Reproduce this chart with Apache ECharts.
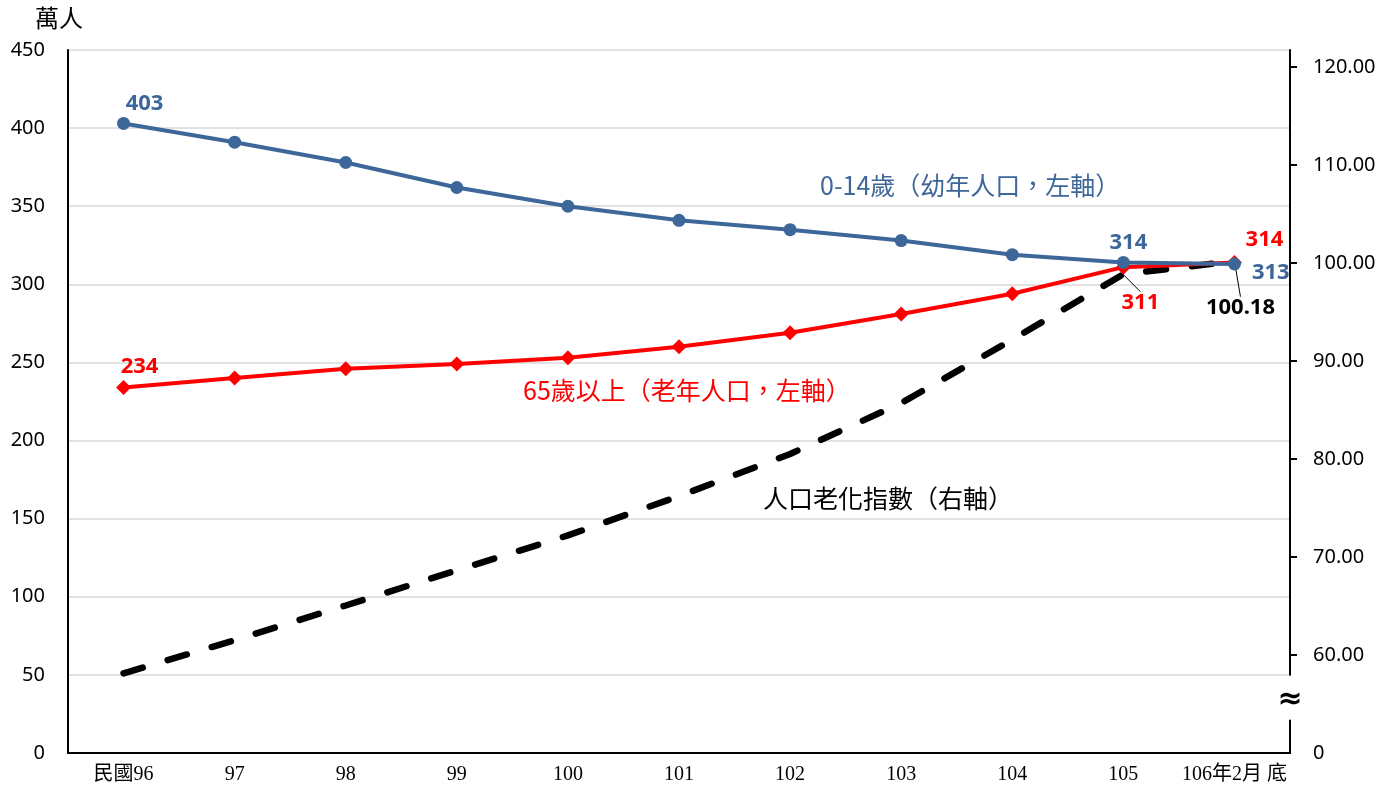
<!DOCTYPE html>
<html>
<head>
<meta charset="utf-8">
<style>
html,body{margin:0;padding:0;background:#fff;}
#chart{width:1384px;height:790px;}
</style>
<script src="https://cdn.jsdelivr.net/npm/echarts@6/dist/echarts.min.js"></script>
</head>
<body>
<div id="chart"></div>
<script>
// ---- data ----
const categories = ['民國96','97','98','99','100','101','102','103','104','105','106年2月 底'];
const youth   = [403, 391, 378, 362, 350, 341, 335, 328, 319, 314, 313];   // 0-14歲 (萬人)
const elderly = [234, 240, 246, 249, 253, 260, 269, 281, 294, 311, 314];   // 65歲以上 (萬人)
const agingIndex = [58.13, 61.51, 65.05, 68.64, 72.20, 76.21, 80.51, 85.70, 92.18, 98.86, 100.18]; // 人口老化指數
const leftTicks = [0, 50, 100, 150, 200, 250, 300, 350, 400, 450];
const rightTicks = [60, 70, 80, 90, 100, 110, 120];
const rightAxisFloor = 50;   // shown as "0" below the axis break

const BLUE = '#3D6699', RED = '#FF0000', BLACK = '#000000';
const GRID = {left: 68, right: 94, top: 50, bottom: 37};

const labelFont = {fontFamily: 'Noto Sans', fontWeight: 'bold', fontSize: 22};

function withLabels(values, labels) {
  return values.map((v, i) => {
    if (!labels[i]) return v;
    const item = {value: v, label: Object.assign({show: true}, labelFont, labels[i].label)};
    if (labels[i].labelLine) item.labelLine = labels[i].labelLine;
    return item;
  });
}
function layoutFrom(map) {
  return function (params) {
    const m = map[params.dataIndex];
    return m ? {dx: m[0], dy: m[1]} : {};
  };
}
const n = categories.length;

const chart = echarts.init(document.getElementById('chart'));
const option = {
  animation: false,
  backgroundColor: '#fff',
  grid: Object.assign({containLabel: false, outerBoundsMode: 'none'}, GRID),
  xAxis: {
    type: 'category',
    data: categories,
    boundaryGap: true,
    axisLine: {lineStyle: {color: '#000', width: 2}},
    axisTick: {show: false},
    axisLabel: {color: '#000', fontSize: 20, margin: 12, interval: 0,
      fontFamily: '"Liberation Serif", "Noto Sans CJK TC", serif'},
    splitLine: {show: false}
  },
  yAxis: [
    {
      type: 'value', min: 0, max: 450, interval: 50,
      axisLine: {show: true, lineStyle: {color: '#000', width: 2}},
      axisTick: {show: false},
      axisLabel: {color: '#000', fontSize: 20, margin: 23, fontFamily: 'Noto Sans'},
      splitLine: {show: true, lineStyle: {color: '#D9D9D9', width: 1.5}}
    },
    {
      type: 'value', min: rightAxisFloor, max: 121.73, position: 'right',
      axisLine: {show: true, lineStyle: {color: '#000', width: 2}},
      axisTick: {show: true, inside: false, length: 7, lineStyle: {color: '#000', width: 2},
        customValues: rightTicks},
      axisLabel: {color: '#000', fontSize: 20, margin: 23, fontFamily: 'Noto Sans',
        customValues: [rightAxisFloor].concat(rightTicks),
        formatter: v => (v === rightAxisFloor ? '0' : Number(v).toFixed(2))},
      splitLine: {show: false}
    }
  ],
  series: [
    {
      name: '人口老化指數', type: 'line', yAxisIndex: 1,
      data: withLabels(agingIndex, {
        [n - 1]: {label: {position: 'bottom', color: BLACK},
          labelLine: {show: true, lineStyle: {color: '#000', width: 1}}}
      }),
      labelLayout: layoutFrom({[n - 1]: [6, 30]}),
      showSymbol: true, symbol: 'circle', symbolSize: 1,
      itemStyle: {color: 'rgba(0,0,0,0)'},
      lineStyle: {color: BLACK, width: 6.5, type: [20, 26], cap: 'round'},
      z: 2
    },
    {
      name: '65歲以上', type: 'line', yAxisIndex: 0,
      data: withLabels(elderly, {
        0: {label: {position: 'top', color: RED, distance: 2}},
        [n - 2]: {label: {position: 'bottom', color: RED},
          labelLine: {show: true, lineStyle: {color: '#000', width: 1}}},
        [n - 1]: {label: {position: 'top', color: RED, distance: 2}}
      }),
      labelLayout: layoutFrom({0: [16, 0], [n - 2]: [17, 12], [n - 1]: [30, -2]}),
      symbol: 'diamond', symbolSize: 15, showSymbol: true,
      itemStyle: {color: RED},
      lineStyle: {color: RED, width: 4},
      z: 3
    },
    {
      name: '0-14歲', type: 'line', yAxisIndex: 0,
      data: withLabels(youth, {
        0: {label: {position: 'top', color: BLUE, distance: 2}},
        [n - 2]: {label: {position: 'top', color: BLUE, distance: 2}},
        [n - 1]: {label: {position: 'right', color: BLUE, distance: 14}}
      }),
      labelLayout: layoutFrom({0: [21, 0], [n - 2]: [5, 0], [n - 1]: [-3, 9]}),
      symbol: 'circle', symbolSize: 13, showSymbol: true,
      itemStyle: {color: BLUE},
      lineStyle: {color: BLUE, width: 4},
      z: 4
    }
  ],
  graphic: []
};
chart.setOption(option);

// decorations: unit title, series annotations, axis break mark
const xRight = 1384 - GRID.right;
const yBreakTop = chart.convertToPixel({yAxisIndex: 1}, 57.9);
const yBreakBot = chart.convertToPixel({yAxisIndex: 1}, 53.4);
const cjk = '"Noto Sans CJK TC", sans-serif';
chart.setOption({
  graphic: [
    {type: 'text', left: 35, top: 6, style: {text: '萬人', font: '24px ' + cjk, fill: '#000'}},
    {type: 'text', left: 820, top: 173, style: {text: '0-14歲（幼年人口，左軸）', font: '25px ' + cjk, fill: BLUE}},
    {type: 'text', left: 523, top: 378, style: {text: '65歲以上（老年人口，左軸）', font: '25px ' + cjk, fill: RED}},
    {type: 'text', left: 763, top: 486, style: {text: '人口老化指數（右軸）', font: '25px ' + cjk, fill: '#000'}},
    {type: 'rect', shape: {x: xRight - 3, y: yBreakTop, width: 6, height: yBreakBot - yBreakTop},
      style: {fill: '#fff'}, z: 100},
    {type: 'text', x: xRight, y: (yBreakTop + yBreakBot) / 2 + 3, z: 101,
      style: {text: '≈', font: 'bold 30px "DejaVu Sans"', fill: '#000', align: 'center', verticalAlign: 'middle'}}
  ]
});
</script>
</body>
</html>
